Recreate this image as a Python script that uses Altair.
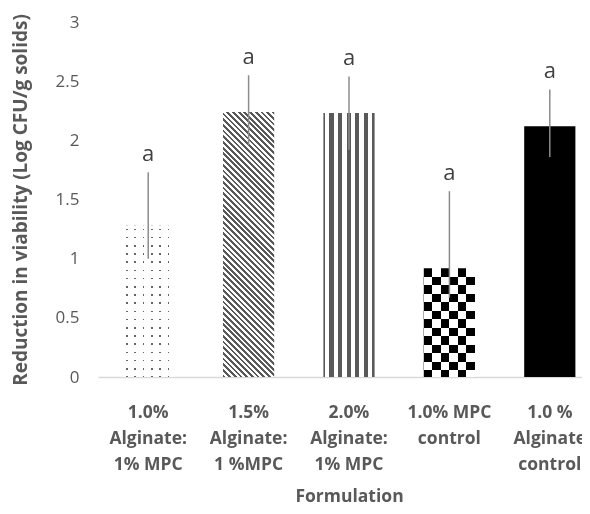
import math
import altair as alt
import pandas as pd

categories = ["1.0% Alginate: 1% MPC", "1.5% Alginate: 1 %MPC", "2.0% Alginate: 1% MPC",
              "1.0% MPC control", "1.0 % Alginate control"]
label_lines = ["1.0%|Alginate:|1% MPC", "1.5%|Alginate:|1 %MPC", "2.0%|Alginate:|1% MPC",
               "1.0% MPC|control", "1.0 %|Alginate|control"]
values = [1.28, 2.24, 2.23, 0.92, 2.12]
err_low = [1.00, 1.96, 1.92, 0.67, 1.86]
err_high = [1.73, 2.55, 2.54, 1.57, 2.43]
letters = ["a", "a", "a", "a", "a"]
y_ticks = [0, 0.5, 1, 1.5, 2, 2.5, 3]

YTITLE = "Reduction in viability (Log CFU/g solids)"
RANGE_W = 502   # extent of the band scale (runs past the visible area, as in the original)
W, H = 484, 355
YMAX = 3
PAD_IN = 0.49
FONT = "Open Sans"
GREY = "#595959"

df = pd.DataFrame({"cat": label_lines, "value": values, "lo": err_low, "hi": err_high,
                   "letter": letters, "idx": list(range(len(values)))})

step = RANGE_W / (len(values) - PAD_IN + 2 * PAD_IN / 2)
bw = step * (1 - PAD_IN)


def bar_h(v):
    return v / YMAX * H


def stripe_stops(period, width, phase, dark, light):
    k = math.floor(-phase / period) - 1
    intervals = []
    while True:
        a = phase + k * period
        b = a + width
        if a >= 1:
            break
        if b > 0:
            intervals.append((max(a, 0.0), min(b, 1.0)))
        k += 1
    stops = []
    pos = 0.0
    for a, b in intervals:
        if a > pos:
            stops += [(pos, light), (a, light)]
        stops += [(a, dark), (b, dark)]
        pos = b
    if pos < 1:
        stops += [(pos, light), (1.0, light)]
    return [alt.GradientStop(offset=round(o, 5), color=c) for o, c in stops]


def grad(stops, x1, y1, x2, y2):
    return alt.Gradient(gradient="linear", stops=stops, x1=x1, y1=y1, x2=x2, y2=y2)


x_enc = alt.X("cat:N", sort=label_lines, title="Formulation",
              scale=alt.Scale(paddingInner=PAD_IN, paddingOuter=PAD_IN / 2, range=[0, RANGE_W]),
              axis=alt.Axis(labelExpr="split(datum.label, '|')", labelAngle=0))
y_enc = alt.Y("value:Q", title=YTITLE, scale=alt.Scale(domain=[0, YMAX]),
              axis=alt.Axis(values=y_ticks, format="~g"))

base = alt.Chart(df)


def bar_layer(i, fill, blend=None):
    kw = {"fill": fill}
    if blend:
        kw["blend"] = blend
    return base.transform_filter(alt.datum.idx == i).mark_bar(**kw).encode(x=x_enc, y=y_enc)


layers = []
# bar 1: dotted (columns x rows with lighten blend)
h1 = bar_h(values[0])
layers.append(bar_layer(0, grad(stripe_stops(8.3 / bw, 1.6 / bw, 3.5 / bw, "#666666", "white"), 0, 0, 1, 0)))
layers.append(bar_layer(0, grad(stripe_stops(8.2 / h1, 1.6 / h1, 3.0 / h1, "#666666", "white"), 0, 0, 0, 1),
                        blend="lighten"))
# bar 2: downward diagonal stripes
h2 = bar_h(values[1])
r = bw / h2
s = (1 + r) / (1 + r * r)
dt = 5.7 / (h2 * (1 + r))
layers.append(bar_layer(1, grad(stripe_stops(dt, dt * 0.5, 0.0, GREY, "white"), 1, 0, 1 - r * s, s)))
# bar 3: vertical stripes
layers.append(bar_layer(2, grad(stripe_stops(8.6 / bw, 4.3 / bw, 6.0 / bw, GREY, "white"), 0, 0, 1, 0)))
# bar 4: checkerboard (difference blend)
h4 = bar_h(values[3])
layers.append(bar_layer(3, grad(stripe_stops(17.0 / bw, 8.5 / bw, 0.0, "black", "white"), 0, 0, 1, 0)))
layers.append(bar_layer(3, grad(stripe_stops(17.0 / h4, 8.5 / h4, 0.0, "black", "white"), 0, 0, 0, 1),
                        blend="difference"))
# bar 5: solid black
layers.append(bar_layer(4, "black"))

rules = base.mark_rule(color="#8c8c8c", strokeWidth=1.5).encode(
    x=x_enc, y=alt.Y("lo:Q", title=YTITLE), y2="hi:Q")
texts = base.mark_text(dy=-11, baseline="alphabetic", fontSize=22, color="#404040", font=FONT).encode(
    x=x_enc, y=alt.Y("hi:Q", title=YTITLE), text="letter:N")

chart = alt.layer(*layers, rules, texts).properties(
    width=W, height=H, autosize=alt.AutoSizeParams(type="none"),
    padding={"left": 90, "top": 14, "right": 0, "bottom": 129}
).configure(font=FONT).configure_view(stroke=None).configure_axisY(
    domain=False, ticks=False, grid=False, labelFontSize=17, labelColor=GREY, labelPadding=19,
    labelFont=FONT, titleFont=FONT, titleFontSize=19, titleFontWeight="bold", titleColor=GREY,
    titlePadding=25
).configure_axisX(
    domainColor="#d9d9d9", domainWidth=1.5, ticks=False, grid=False, labelFont=FONT,
    labelFontSize=17.5, labelFontWeight="bold", labelColor=GREY, labelLineHeight=26, labelPadding=26,
    titleFont=FONT, titleFontSize=17.5, titleFontWeight="bold", titleColor=GREY, titlePadding=15
)

chart.save("out.html", embed_options={"renderer": "svg", "actions": False})
